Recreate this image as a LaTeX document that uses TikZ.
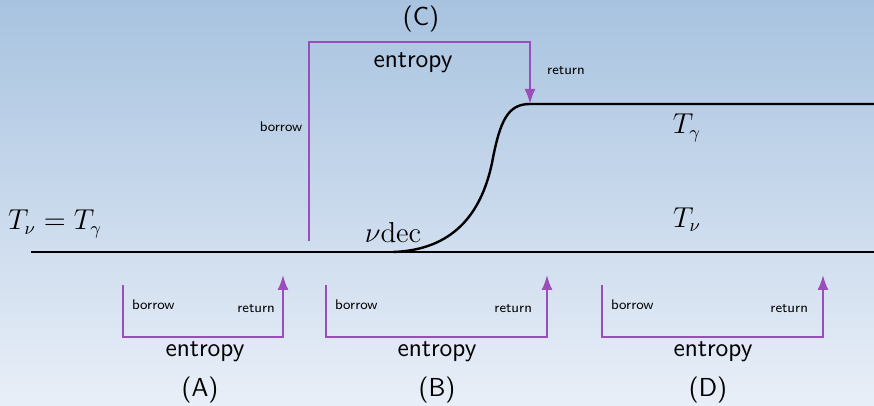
\documentclass[tikz,border=0pt]{standalone}
\usetikzlibrary{arrows.meta}
\begin{document}
\begin{tikzpicture}[x=0.5pt, y=-0.5pt,
    flow/.style={draw=flowColour, line width=1pt},
    tip/.style={-{Latex[length=7.5pt,width=5.5pt]}},
    big/.style={font=\sffamily\fontsize{13}{15}\selectfont},
    small/.style={font=\sffamily\fontsize{7}{8}\selectfont},
    temp/.style={font=\fontsize{13.5}{16}\selectfont}]

    \definecolor{skyTop}{HTML}{A8C3E0}
    \definecolor{skyBottom}{HTML}{E9EFF8}
    \definecolor{flowColour}{HTML}{9B4DB9}

    % Background
    \useasboundingbox (0,0) rectangle (874,406);
    \shade[top color=skyTop, bottom color=skyBottom] (0,0) rectangle (874,406);

    % Temperature curves
    \coordinate (lineStart) at (31,252);
    \coordinate (lineEnd) at (874,252);
    \coordinate (decStart) at (393,252);
    \coordinate (decMid) at (492,163);
    \coordinate (decTop) at (530,104);
    \coordinate (topEnd) at (874,104);
    \draw[line width=1.2pt] (lineStart) -- (lineEnd);
    \draw[line width=1.2pt] (decStart) .. controls (452,250) and (481,215) .. (decMid)
        .. controls (500,120) and (508,104) .. (decTop) -- (topEnd);

    \node[temp] (equal) at (55,224) {$T_\nu = T_\gamma$};
    \node[temp] (nudec) at (393,233) {$\nu\mathrm{dec}$};
    \node[temp] (tgamma) at (687,128) {$T_\gamma$};
    \node[temp] (tnu) at (687,220) {$T_\nu$};

    % Bracket (C)
    \coordinate (cLow) at (309,241);
    \coordinate (cTop) at (309,42);
    \draw[flow, tip] (cLow) -- (cTop) -| (decTop);
    \node[big] (cLabel) at (421,19) {(C)};
    \node[big] (cEntropy) at (413,63) {entropy};
    \node[small] (cBorrow) at (281,127) {borrow};
    \node[small] (cReturn) at (566,71) {return};

    % Bracket (A)
    \coordinate (aTop) at (123,285);
    \coordinate (aLow) at (123,337);
    \coordinate (aTip) at (283,275);
    \draw[flow, tip] (aTop) -- (aLow) -| (aTip);
    \node[small, anchor=west] (aBorrow) at (125,305) {borrow};
    \node[small, anchor=east] (aReturn) at (282,309) {return};
    \node[big] (aEntropy) at (205,352) {entropy};
    \node[big] (aLabel) at (200,390) {(A)};

    % Bracket (B)
    \coordinate (bTop) at (326,285);
    \coordinate (bLow) at (326,337);
    \coordinate (bTip) at (547,275);
    \draw[flow, tip] (bTop) -- (bLow) -| (bTip);
    \node[small, anchor=west] (bBorrow) at (328,305) {borrow};
    \node[small, anchor=east] (bReturn) at (539,309) {return};
    \node[big] (bEntropy) at (437,352) {entropy};
    \node[big] (bLabel) at (437,390) {(B)};

    % Bracket (D)
    \coordinate (dTop) at (602,285);
    \coordinate (dLow) at (602,337);
    \coordinate (dTip) at (823,275);
    \draw[flow, tip] (dTop) -- (dLow) -| (dTip);
    \node[small, anchor=west] (dBorrow) at (604,305) {borrow};
    \node[small, anchor=east] (dReturn) at (815,309) {return};
    \node[big] (dEntropy) at (713,352) {entropy};
    \node[big] (dLabel) at (708,390) {(D)};

\end{tikzpicture}
\end{document}
